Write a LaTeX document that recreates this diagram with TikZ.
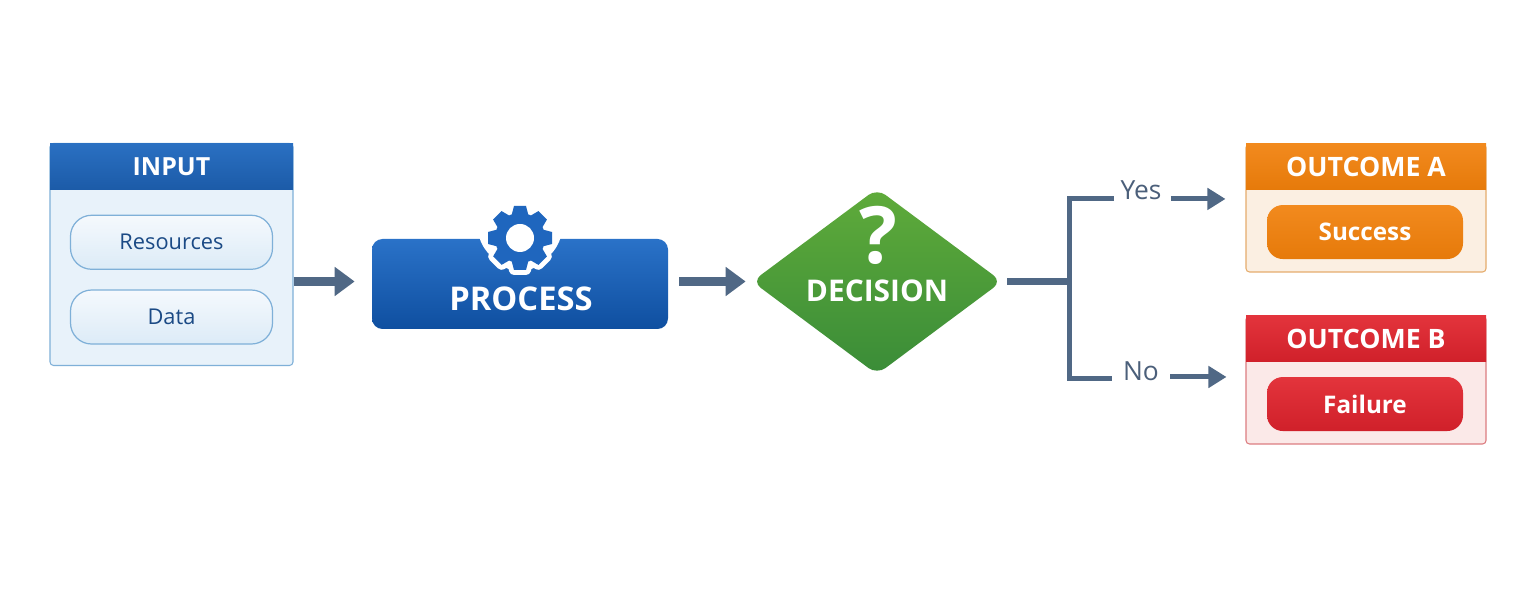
\documentclass[tikz,border=0pt]{standalone}
\usepackage{fontspec}
\setmainfont{Open Sans}
\usepackage{xcolor}
\usetikzlibrary{shapes.geometric,arrows.meta,positioning,calc}
\definecolor{PageBG}{HTML}{FFFFFF}
\definecolor{SlateArrow}{HTML}{506885}
\definecolor{SlateText}{HTML}{4B5F7A}
\definecolor{InkBlue}{HTML}{1B4A85}
\definecolor{GearBlue}{HTML}{1F66BE}
\definecolor{BlueTop}{HTML}{2A70C2}
\definecolor{BlueBot}{HTML}{1C5BA8}
\definecolor{PrcTop}{HTML}{2A72C8}
\definecolor{PrcBot}{HTML}{0F4FA0}
\definecolor{PaleBlue}{HTML}{E8F2FA}
\definecolor{PillTop}{HTML}{F5F9FD}
\definecolor{PillBot}{HTML}{DCEBF7}
\definecolor{BlueRule}{HTML}{7FB0D8}
\definecolor{GreenTop}{HTML}{5FAB3A}
\definecolor{GreenBot}{HTML}{3A8C38}
\definecolor{OrgTop}{HTML}{F28A1E}
\definecolor{OrgBot}{HTML}{E67A0A}
\definecolor{OrgPale}{HTML}{FBEFE2}
\definecolor{OrgRule}{HTML}{E5AC6C}
\definecolor{RedTop}{HTML}{E3343C}
\definecolor{RedBot}{HTML}{D0202A}
\definecolor{RedPale}{HTML}{FBE9E8}
\definecolor{RedRule}{HTML}{DC7C80}
\newcommand{\fsize}[1]{\fontsize{#1}{#1}\selectfont}

\begin{document}
\begin{tikzpicture}[
    box/.style={rectangle,draw=#1,line width=.6pt,rounded corners=2pt,inner sep=0pt},
    head/.style n args={2}{rectangle,anchor=north,inner sep=0pt,minimum height=.92cm,
               top color=#1,bottom color=#2,text=white,font=\fsize{15.2}\bfseries},
    pill/.style n args={2}{rectangle,rounded corners=9pt,inner sep=0pt,minimum width=3.92cm,minimum height=1.08cm,
               top color=#1,bottom color=#2,text=white,font=\fsize{13.8}\bfseries},
    softpill/.style={rectangle,draw=BlueRule,line width=.7pt,rounded corners=12pt,inner sep=0pt,
               minimum width=4.04cm,minimum height=1.08cm,top color=PillTop,bottom color=PillBot,
               text=InkBlue,font=\fsize{12.4}},
    ar/.style={-{Triangle[length=4mm,width=5.6mm]},line width=1.8mm,SlateArrow},
    arsm/.style={-{Triangle[length=3.6mm,width=4.2mm]},line width=1mm,SlateArrow},
    fork/.style={line width=1mm,SlateArrow},
    lbl/.style={inner sep=0pt,text=SlateText,font=\fsize{15}}]
\useasboundingbox (0,0) rectangle (30.72,12.28);
\fill[PageBG] (0,0) rectangle (30.72,12.28);
% input
\node[box=BlueRule,fill=PaleBlue,minimum width=4.86cm,minimum height=4.44cm] (inp) at (3.43,7.19) {};
\node[head={BlueTop}{BlueBot},minimum width=4.86cm,font=\fsize{14.2}\bfseries] (inpH) at (inp.north) {INPUT};
\node[softpill,below=5mm of inpH] (res) {Resources};
\node[softpill,below=3.9mm of res] (dat) {Data};
% process, the gear sits in a notch of the box
\node[rectangle,rounded corners=6pt,inner sep=0pt,minimum width=5.92cm,minimum height=1.8cm,
      top color=PrcTop,bottom color=PrcBot] (prc) at (10.4,6.6) {};
\coordinate (gc) at (10.4,7.52);
\fill[PageBG] ($(gc)+(0,.26)$) circle (.85);
\fill[PageBG] (gc) circle (.66);
\foreach \a in {0,45,...,315}
  \filldraw[PageBG,line width=2mm,line join=round,shift={(gc)},rotate=\a] (-.17,.45) -- (-.12,.64) -- (.12,.64) -- (.17,.45) -- cycle;
\fill[GearBlue] (gc) circle (.5);
\foreach \a in {0,45,...,315}
  \fill[GearBlue,shift={(gc)},rotate=\a] (-.17,.45) -- (-.12,.64) -- (.12,.64) -- (.17,.45) -- cycle;
\fill[PageBG] (gc) circle (.28);
\node[text=white,font=\fsize{18.6}\bfseries,inner sep=0pt] (prcT) at (10.42,6.3) {PROCESS};
% decision
\node[diamond,rounded corners=6pt,inner sep=0pt,minimum width=5cm,minimum height=3.72cm,
      top color=GreenTop,bottom color=GreenBot] (dec) at (17.54,6.65) {};
\node[text=white,font=\fsize{45}\bfseries,inner sep=0pt] (decQ) at (17.56,7.58) {?};
\node[text=white,font=\fsize{17}\bfseries,inner sep=0pt] (decT) at (17.54,6.46) {DECISION};
% outcomes
\node[box=OrgRule,fill=OrgPale,minimum width=4.8cm,minimum height=2.56cm] (outA) at (27.32,8.12) {};
\node[head={OrgTop}{OrgBot},minimum width=4.8cm] (outAH) at (outA.north) {OUTCOME A};
\node[pill={OrgTop}{OrgBot},below=2.9mm of outAH,xshift=-.2mm] (suc) {Success};
\node[box=RedRule,fill=RedPale,minimum width=4.8cm,minimum height=2.56cm] (outB) at (27.32,4.68) {};
\node[head={RedTop}{RedBot},minimum width=4.8cm] (outBH) at (outB.north) {OUTCOME B};
\node[pill={RedTop}{RedBot},below=2.9mm of outBH,xshift=-.2mm] (fai) {Failure};
% branch labels
\node[lbl] (yes) at (22.82,8.48) {Yes};
\node[lbl] (no) at (22.82,4.86) {No};
\coordinate (jn) at (21.38,6.65);
% connectors
\draw[ar,shorten >=3.4mm] (inp.east |- dec) -- (prc.west |- dec);
\draw[ar,shorten <=2.2mm,shorten >=1.2mm] (prc.east |- dec) -- (dec.west);
\draw[fork,line width=1.5mm,shorten <=1mm] (dec.east) -- (jn);
\draw[fork,shorten >=1.2mm] (jn) |- ([yshift=-5.1pt]yes.west);
\draw[fork,shorten >=2.2mm] (jn) |- ([yshift=-4.5pt]no.west);
\draw[arsm,shorten <=1.8mm,shorten >=4mm] ([yshift=-5.1pt]yes.east) -- ([yshift=-5.1pt]yes.east -| outA.west);
\draw[arsm,shorten <=2.2mm,shorten >=3.8mm] ([yshift=-3.4pt]no.east) -- ([yshift=-3.4pt]no.east -| outB.west);
\end{tikzpicture}
\end{document}
